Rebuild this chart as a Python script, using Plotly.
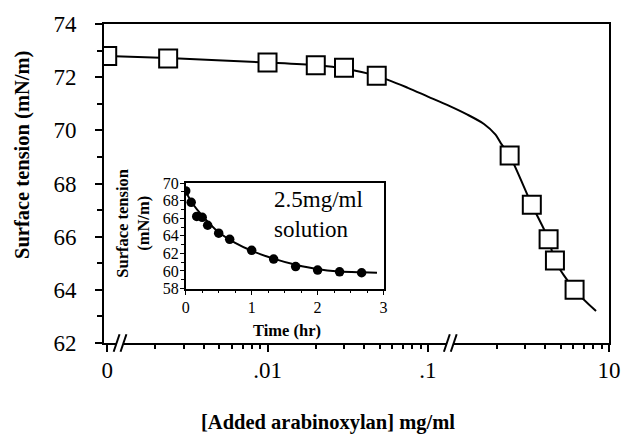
import numpy as np
import plotly.graph_objects as go

# ---------------- data ----------------
conc = [0, 0.0024, 0.01, 0.02, 0.03, 0.048, 2.4, 3.3, 4.2, 4.6, 6.1]
tension = [72.8, 72.7, 72.55, 72.45, 72.35, 72.05, 69.05, 67.2, 65.9, 65.1, 64.0]

fit_conc = [0, 0.0024, 0.01, 0.02, 0.03, 0.048, 0.075, 0.1, 1.0, 1.3, 1.66, 1.96, 2.14, 2.4, 3.3, 4.2, 4.6, 6.1, 8.3]
fit_tension = [72.8, 72.72, 72.55, 72.45, 72.33, 72.05, 71.6, 71.27, 70.93, 70.6, 70.24, 69.84, 69.47, 69.05, 67.2, 65.9, 65.1, 64.0, 63.2]

x_tick_values = [0, 0.01, 0.1, 10]
x_tick_labels = ["0", ".01", ".1", "10"]
x_minor_values = [0.002, 0.003, 0.004, 0.005, 0.006, 0.007, 0.008, 0.009,
                  0.02, 0.03, 0.04, 0.05, 0.06, 0.07, 0.08, 0.09,
                  2, 3, 4, 5, 6, 7, 8, 9]

time_hr = [0, 0.083, 0.167, 0.25, 0.333, 0.5, 0.667, 1.0, 1.333, 1.667, 2.0, 2.333, 2.667]
inset_tension = [69.1, 67.8, 66.2, 66.1, 65.2, 64.3, 63.6, 62.35, 61.35, 60.5, 60.1, 59.9, 59.8]
fit_time = [0, 0.1, 0.25, 0.5, 0.75, 1.0, 1.33, 1.67, 2.0, 2.33, 2.67, 2.9]
fit_inset = [69.0, 67.7, 66.3, 64.4, 63.2, 62.3, 61.4, 60.7, 60.2, 59.95, 59.85, 59.8]

# ---------------- broken log axis mapping ----------------
ZERO_POS = -3.0        # where "0" is drawn (a decade below .01)
SHIFT = 0.87           # decade 0.1..1 compressed to a small gap
X_RANGE = [-3.02, 0.13]
BREAK1 = -2.92         # first "//"
BREAK2 = -0.86         # second "//"


def pos(v):
    if v <= 0:
        return ZERO_POS
    lv = np.log10(v)
    return lv if v <= 0.1 + 1e-12 else lv - SHIFT


def paper_x(p):
    return (p - X_RANGE[0]) / (X_RANGE[1] - X_RANGE[0])


FONT = "Liberation Serif"
BLACK = "black"

fig = go.Figure()

fig.add_trace(go.Scatter(
    x=[pos(v) for v in fit_conc], y=fit_tension, mode="lines",
    line=dict(color=BLACK, width=2, shape="spline", smoothing=0.8),
    hoverinfo="skip", showlegend=False))
fig.add_trace(go.Scatter(
    x=[pos(v) for v in conc], y=tension, mode="markers",
    marker=dict(symbol="square", size=18, color="white",
                line=dict(color=BLACK, width=2)),
    showlegend=False))

# inset
fig.add_trace(go.Scatter(
    x=fit_time, y=fit_inset, mode="lines", xaxis="x2", yaxis="y2",
    line=dict(color=BLACK, width=2, shape="spline", smoothing=0.8),
    hoverinfo="skip", showlegend=False))
fig.add_trace(go.Scatter(
    x=time_hr, y=inset_tension, mode="markers", xaxis="x2", yaxis="y2",
    marker=dict(symbol="circle", size=9.5, color=BLACK),
    showlegend=False))

tick_font = dict(family=FONT, size=23, color=BLACK)
inset_tick_font = dict(family=FONT, size=16, color=BLACK)

fig.update_layout(
    width=633, height=438,
    margin=dict(l=104, r=16, t=13, b=95),
    paper_bgcolor="white", plot_bgcolor="white",
    font=dict(family=FONT, color=BLACK),
    xaxis=dict(
        range=X_RANGE, showgrid=False, zeroline=False,
        showline=True, linecolor=BLACK, linewidth=2, mirror=True,
        tickvals=[pos(v) for v in x_tick_values], ticktext=x_tick_labels,
        ticks="outside", ticklen=7, tickwidth=1.5, tickcolor=BLACK,
        ticklabelstandoff=-2,
        tickfont=tick_font,
        minor=dict(tickvals=[pos(v) for v in x_minor_values], ticks="outside",
                   ticklen=4, tickwidth=1.5, tickcolor=BLACK),
    ),
    yaxis=dict(
        range=[62, 74], showgrid=False, zeroline=False,
        showline=True, linecolor=BLACK, linewidth=2, mirror=True,
        tickmode="linear", tick0=62, dtick=2,
        ticks="outside", ticklen=7, tickwidth=1.5, tickcolor=BLACK,
        ticklabelstandoff=14,
        tickfont=tick_font,
        minor=dict(tick0=62, dtick=1, ticks="outside", ticklen=5,
                   tickwidth=1.5, tickcolor=BLACK),
    ),
    xaxis2=dict(
        domain=[0.1618, 0.5536], anchor="y2", range=[0, 3],
        showgrid=False, zeroline=False,
        showline=True, linecolor=BLACK, linewidth=1.5, mirror=True,
        tickmode="linear", tick0=0, dtick=1,
        ticks="outside", ticklen=5, tickwidth=1.2, tickcolor=BLACK,
        ticklabelstandoff=-2,
        tickfont=inset_tick_font,
        minor=dict(tick0=0, dtick=0.25, ticks="outside", ticklen=3,
                   tickwidth=1.2, tickcolor=BLACK),
    ),
    yaxis2=dict(
        domain=[0.1706, 0.5015], anchor="x2", range=[58, 70],
        showgrid=False, zeroline=False,
        showline=True, linecolor=BLACK, linewidth=1.5, mirror=True,
        tickmode="linear", tick0=58, dtick=2,
        ticks="outside", ticklen=4, tickwidth=1.2, tickcolor=BLACK,
        ticklabelstandoff=-2,
        tickfont=inset_tick_font,
        minor=dict(tick0=58, dtick=1, ticks="outside", ticklen=3,
                   tickwidth=1.2, tickcolor=BLACK),
    ),
)

annotations = [
    dict(text="<b>Surface tension (mN/m)</b>", xref="paper", yref="paper",
         x=-0.16, y=0.59, textangle=-90, showarrow=False,
         xanchor="center", yanchor="middle",
         font=dict(family=FONT, size=20.5, color=BLACK)),
    dict(text="<b>[Added arabinoxylan] mg/ml</b>", xref="paper", yref="paper",
         x=0.444, y=-0.25, showarrow=False, xanchor="center", yanchor="middle",
         font=dict(family=FONT, size=20.5, color=BLACK)),
    dict(text="<b>Surface tension<br>(mN/m)</b>", xref="paper", yref="paper",
         x=0.058, y=0.375, textangle=-90, showarrow=False,
         xanchor="center", yanchor="middle",
         font=dict(family=FONT, size=16.5, color=BLACK)),
    dict(text="<b>Time (hr)</b>", xref="paper", yref="paper",
         x=0.363, y=0.038, showarrow=False, xanchor="center", yanchor="middle",
         font=dict(family=FONT, size=16.5, color=BLACK)),
    dict(text="2.5mg/ml<br>solution", xref="x2", yref="y2",
         x=1.31, y=66.4, showarrow=False, xanchor="left", yanchor="middle",
         align="left", font=dict(family=FONT, size=23, color=BLACK)),
]
fig.update_layout(annotations=annotations)

# axis break marks "//"
px_x = 1.0 / 513
px_y = 1.0 / 330
shapes = []
for b in (BREAK1, BREAK2):
    c = paper_x(b)
    shapes.append(dict(type="line", xref="paper", yref="paper",
                       x0=c - 3.5 * px_x, x1=c + 3.5 * px_x, y0=0, y1=0,
                       line=dict(color="white", width=4)))
    for off in (-3.5, 3.5):
        shapes.append(dict(type="line", xref="paper", yref="paper",
                           x0=c + (off - 3) * px_x, x1=c + (off + 3) * px_x,
                           y0=-9 * px_y, y1=9 * px_y,
                           line=dict(color=BLACK, width=2)))
fig.update_layout(shapes=shapes)

fig.write_html("out.html")
